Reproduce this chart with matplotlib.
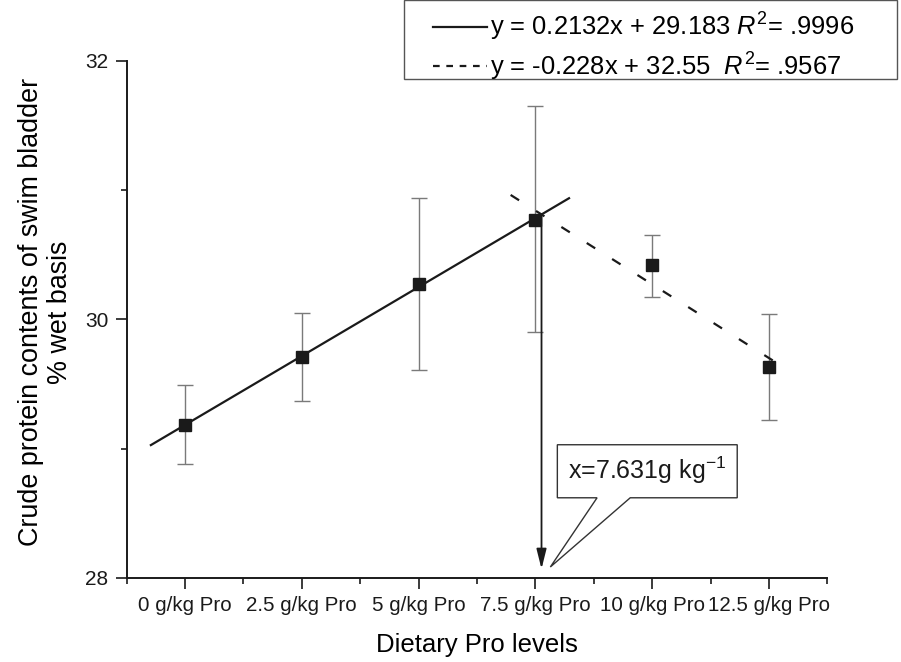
import matplotlib
matplotlib.use("Agg")
import matplotlib.pyplot as plt
from matplotlib.patches import Polygon, Rectangle
from matplotlib.lines import Line2D
import numpy as np

plt.rcParams['font.family'] = ['Liberation Sans', 'DejaVu Sans']
plt.rcParams['mathtext.fontset'] = 'custom'
plt.rcParams['mathtext.rm'] = 'Liberation Sans'
plt.rcParams['mathtext.it'] = 'Liberation Sans:italic'
plt.rcParams['mathtext.default'] = 'regular'

# ---- data ----
levels = [0, 2.5, 5, 7.5, 10, 12.5]
tick_labels = ['0 g/kg Pro', '2.5 g/kg Pro', '5 g/kg Pro', '7.5 g/kg Pro',
               '10 g/kg Pro', '12.5 g/kg Pro']
means = [29.18, 29.71, 30.27, 30.77, 30.42, 29.63]
err_low = [28.88, 29.37, 29.61, 29.90, 30.17, 29.22]
err_high = [29.49, 30.05, 30.94, 31.65, 30.65, 30.04]

fit1_slope, fit1_icpt = 0.2132, 29.183
fit1_range = [-0.73, 8.22]
fit2_slope, fit2_icpt = -0.228, 32.55
fit2_range = [6.97, 12.83]
break_x = 7.631

fit1_label = r'y = 0.2132x + 29.183 $\mathit{R}^{2}$= .9996'
fit2_label = r'y = -0.228x + 32.55  $\mathit{R}^{2}$= .9567'

W, H = 901, 662
fig = plt.figure(figsize=(W / 100, H / 100), dpi=100)
ax = fig.add_axes([0.1405, 0.1269, 0.7778, 0.7817])

means_a = np.array(means)
yerr = [means_a - np.array(err_low), np.array(err_high) - means_a]
ax.errorbar(levels, means, yerr=yerr, fmt='none', ecolor='#7a7a7a',
            elinewidth=1.0, capsize=6, capthick=1.0, zorder=2)

x1 = np.array(fit1_range)
ax.plot(x1, fit1_slope * x1 + fit1_icpt, color='#1a1a1a', lw=1.6, zorder=3)
x2 = np.array(fit2_range)
ax.plot(x2, fit2_slope * x2 + fit2_icpt, color='#1a1a1a', lw=1.6,
        linestyle=(0, (4.5, 9)), zorder=3)

ax.plot(levels, means, 's', color='#1a1a1a', markersize=9, zorder=4)

# arrow at the break point
y_top = fit1_slope * break_x + fit1_icpt
ax.annotate('', xy=(break_x, 28.07), xytext=(break_x, y_top),
            arrowprops=dict(arrowstyle='-|>,head_length=1.2,head_width=0.3',
                            color='#1a1a1a', lw=1.3, shrinkA=0, shrinkB=0),
            zorder=3)

# callout box
callout = [(7.97, 29.03), (11.82, 29.03), (11.82, 28.62), (9.53, 28.62),
           (7.82, 28.085), (8.82, 28.62), (7.97, 28.62)]
ax.add_patch(Polygon(callout, closed=True, facecolor='white',
                     edgecolor='#333333', lw=1.0, zorder=5))
ax.text(9.9, 28.83, r'x=7.631g kg$^{-1}$', ha='center', va='center',
        fontsize=18, color='#1a1a1a', zorder=6)

ax.set_xlim(-1.25, 13.75)
ax.set_ylim(28, 32)
ax.set_xticks(levels)
ax.set_xticklabels(tick_labels, fontsize=14.8)
ax.set_xticks(np.arange(-1.25, 14, 2.5), minor=True)
ax.set_yticks([28, 30, 32])
ax.set_yticks([29, 31], minor=True)
ax.tick_params(axis='both', which='major', length=8, width=1.2, direction='out',
               colors='#1a1a1a')
ax.tick_params(axis='both', which='minor', length=4, width=1.2, direction='out',
               colors='#1a1a1a')
ax.tick_params(axis='y', labelsize=15, pad=5)
ax.tick_params(axis='x', pad=5)

for s in ['top', 'right']:
    ax.spines[s].set_visible(False)
for s in ['left', 'bottom']:
    ax.spines[s].set_linewidth(1.4)
    ax.spines[s].set_color('#1a1a1a')

ax.set_xlabel('Dietary Pro levels', fontsize=18.5, labelpad=13)
ax.set_ylabel('Crude protein contents of swim bladder\n% wet basis', fontsize=19.4,
              linespacing=1.12)
ax.yaxis.set_label_coords(-0.077, 0.514)

# legend frame + legend
fig.patches.append(Rectangle((404 / W, 1 - 79 / H), (897 - 404) / W, 79 / H,
                             transform=fig.transFigure, facecolor='white',
                             edgecolor='#555555', lw=1.0, zorder=1))
handles = [Line2D([], [], color='#1a1a1a', lw=1.6),
           Line2D([], [], color='#1a1a1a', lw=1.6, linestyle=(0, (3, 3)))]
leg = fig.legend(handles, [fit1_label, fit2_label], loc='upper left',
                 bbox_to_anchor=(433 / W, 1 - 11 / H), fontsize=18.4, frameon=False,
                 handlelength=2.1, handletextpad=0.15,
                 borderpad=0, labelspacing=0.28, borderaxespad=0)
leg.set_zorder(2)

fig.savefig('out.png', dpi=100)
